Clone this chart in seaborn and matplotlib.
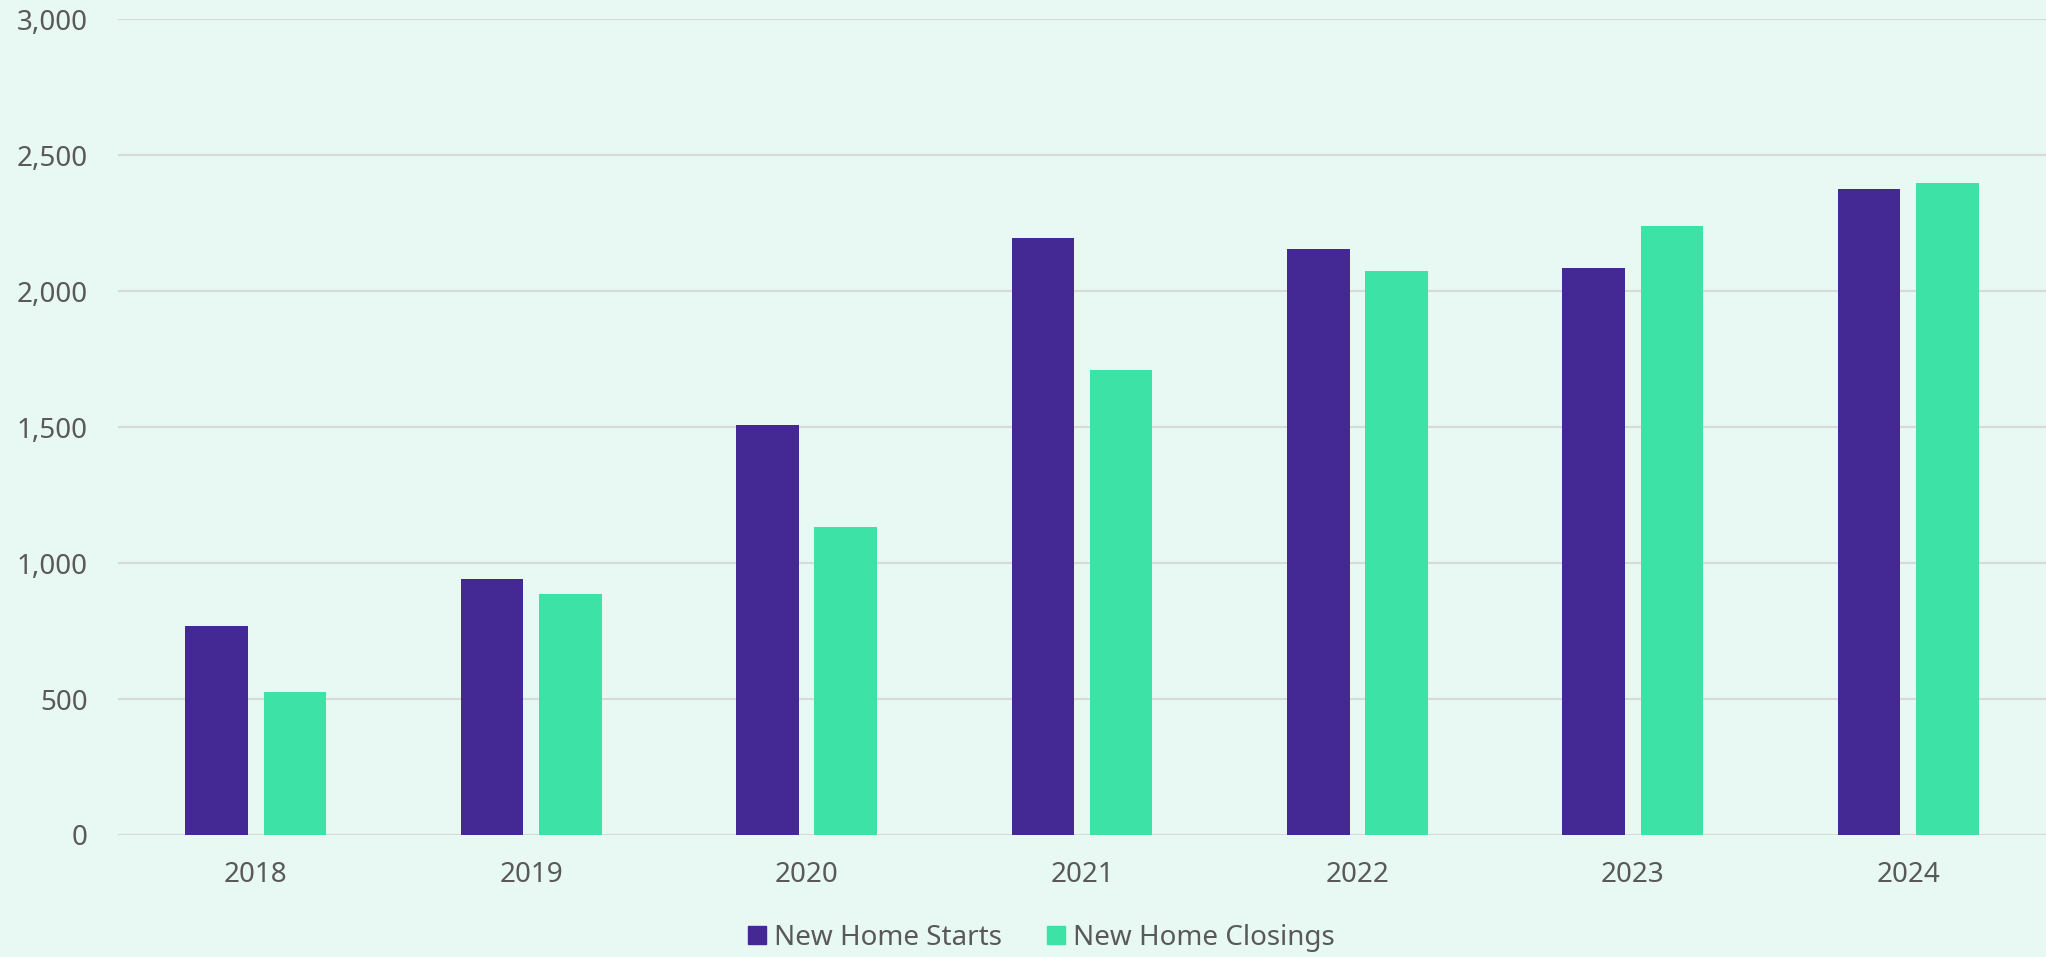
import pandas as pd
import matplotlib
matplotlib.use('Agg')
import matplotlib.pyplot as plt
import seaborn as sns
from matplotlib.ticker import FuncFormatter

# values
years = ['2018', '2019', '2020', '2021', '2022', '2023', '2024']
home_starts = [767, 941, 1506, 2196, 2153, 2084, 2374]
home_closings = [526, 887, 1131, 1708, 2075, 2241, 2398]
series_names = ['New Home Starts', 'New Home Closings']
y_ticks = [0, 500, 1000, 1500, 2000, 2500, 3000]

bg = '#E8F8F2'
colors = ['#442995', '#3DE3A6']
text_grey = '#595959'

data = pd.DataFrame({
    'year': years * 2,
    'value': home_starts + home_closings,
    'series': [series_names[0]] * len(years) + [series_names[1]] * len(years),
})

sns.set_theme(style='white')
plt.rcParams['font.family'] = ['Noto Sans', 'DejaVu Sans']

fig = plt.figure(figsize=(20.46, 9.57), dpi=100, facecolor=bg)
ax = fig.add_axes([0.0577, 0.1275, 0.9423, 0.8525])
ax.set_facecolor(bg)

sns.barplot(data=data, x='year', y='value', hue='series', palette=colors,
            width=0.568, gap=0.2, ax=ax, legend=False, saturation=1,
            linewidth=0)

ax.set_ylim(0, 3000)
ax.set_yticks(y_ticks)
ax.yaxis.set_major_formatter(FuncFormatter(lambda v, p: f'{int(v):,}'))
ax.set_xlim(-0.5, len(years) - 0.5)
ax.grid(axis='y', color='#D9D9D9', linewidth=1.5)
ax.set_axisbelow(True)
for side in ['top', 'right', 'left', 'bottom']:
    ax.spines[side].set_visible(False)
ax.set_xlabel('')
ax.set_ylabel('')
ax.tick_params(axis='y', length=0, pad=22, labelsize=20, labelcolor=text_grey)
ax.tick_params(axis='x', length=0, pad=19, labelsize=20, labelcolor=text_grey)

handles = [plt.Rectangle((0, 0), 1, 1, color=c) for c in colors]
fig.legend(handles, series_names, loc='center', bbox_to_anchor=(0.509, 0.02),
           ncol=2, frameon=False, fontsize=20, labelcolor=text_grey,
           handlelength=0.65, handleheight=0.65, handletextpad=0.3,
           columnspacing=1.6)

fig.savefig('out.png', dpi=100, facecolor=bg)
plt.close(fig)
